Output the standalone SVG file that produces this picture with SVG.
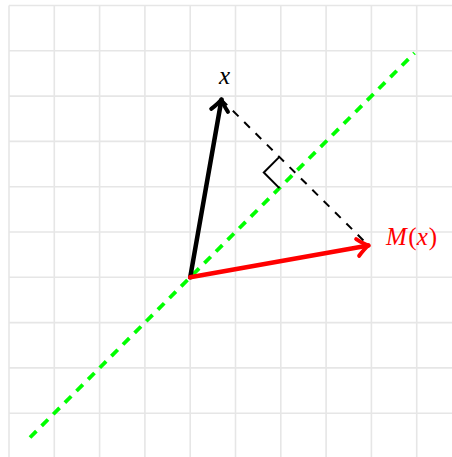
<svg xmlns="http://www.w3.org/2000/svg" width="452" height="457" viewBox="0 0 452 457">
<defs>
<style>
.grid line{stroke:#e6e6e6;stroke-width:1.6}
.lbl{font-family:"Liberation Serif","Times New Roman",serif;font-style:italic;font-size:25px}
.up{font-style:normal}
</style>
<marker id="ahK" markerUnits="userSpaceOnUse" viewBox="-14 -11 16 22" refX="0" refY="0" markerWidth="16" markerHeight="22" orient="auto">
<path d="M-11,-8.5 Q-4,-2 0,0 Q-4,2 -11,8.5" fill="none" stroke="#000" stroke-width="4" stroke-linecap="round" stroke-linejoin="round"/>
</marker>
<marker id="ahR" markerUnits="userSpaceOnUse" viewBox="-14 -11 16 22" refX="0" refY="0" markerWidth="16" markerHeight="22" orient="auto">
<path d="M-11,-8.5 Q-4,-2 0,0 Q-4,2 -11,8.5" fill="none" stroke="#ff0000" stroke-width="4" stroke-linecap="round" stroke-linejoin="round"/>
</marker>
</defs>
<rect width="452" height="457" fill="#fff"/>
<g class="grid" id="grid">
<line x1="9" y1="5.5" x2="9" y2="457"/>
<line x1="54.3" y1="5.5" x2="54.3" y2="457"/>
<line x1="99.6" y1="5.5" x2="99.6" y2="457"/>
<line x1="144.9" y1="5.5" x2="144.9" y2="457"/>
<line x1="190.2" y1="5.5" x2="190.2" y2="457"/>
<line x1="235.5" y1="5.5" x2="235.5" y2="457"/>
<line x1="280.8" y1="5.5" x2="280.8" y2="457"/>
<line x1="326.1" y1="5.5" x2="326.1" y2="457"/>
<line x1="371.4" y1="5.5" x2="371.4" y2="457"/>
<line x1="416.7" y1="5.5" x2="416.7" y2="457"/>
<line x1="9" y1="5.5" x2="452" y2="5.5"/>
<line x1="9" y1="50.8" x2="452" y2="50.8"/>
<line x1="9" y1="96.1" x2="452" y2="96.1"/>
<line x1="9" y1="141.4" x2="452" y2="141.4"/>
<line x1="9" y1="186.7" x2="452" y2="186.7"/>
<line x1="9" y1="232" x2="452" y2="232"/>
<line x1="9" y1="277.3" x2="452" y2="277.3"/>
<line x1="9" y1="322.6" x2="452" y2="322.6"/>
<line x1="9" y1="367.9" x2="452" y2="367.9"/>
<line x1="9" y1="413.2" x2="452" y2="413.2"/>
</g>
<g id="connectors">
<line id="mirror-line" x1="30" y1="437.5" x2="414.5" y2="53" stroke="#00ff00" stroke-width="3.8" stroke-dasharray="9 7.44"/>
<line id="projection" x1="221.5" y1="99.5" x2="368.5" y2="245.5" stroke="#000" stroke-width="2" stroke-dasharray="8 8"/>
<polyline id="right-angle" points="279.4,156.9 263.8,172.5 279.4,188.1" fill="none" stroke="#000" stroke-width="2"/>
<line id="vec-x" x1="190.2" y1="277.3" x2="221.5" y2="99.5" stroke="#000" stroke-width="4.5" stroke-linecap="round" marker-end="url(#ahK)"/>
<line id="vec-mx" x1="190.2" y1="277.3" x2="368.5" y2="245.5" stroke="#ff0000" stroke-width="4.5" stroke-linecap="round" marker-end="url(#ahR)"/>
</g>
<g id="label-x"><text class="lbl" x="219" y="83.5">x</text></g>
<g id="label-mx"><text class="lbl" x="386" y="244.5" fill="#ff0000">M<tspan class="up" dx="1.5">(</tspan>x<tspan class="up" dx="1">)</tspan></text></g>
</svg>
